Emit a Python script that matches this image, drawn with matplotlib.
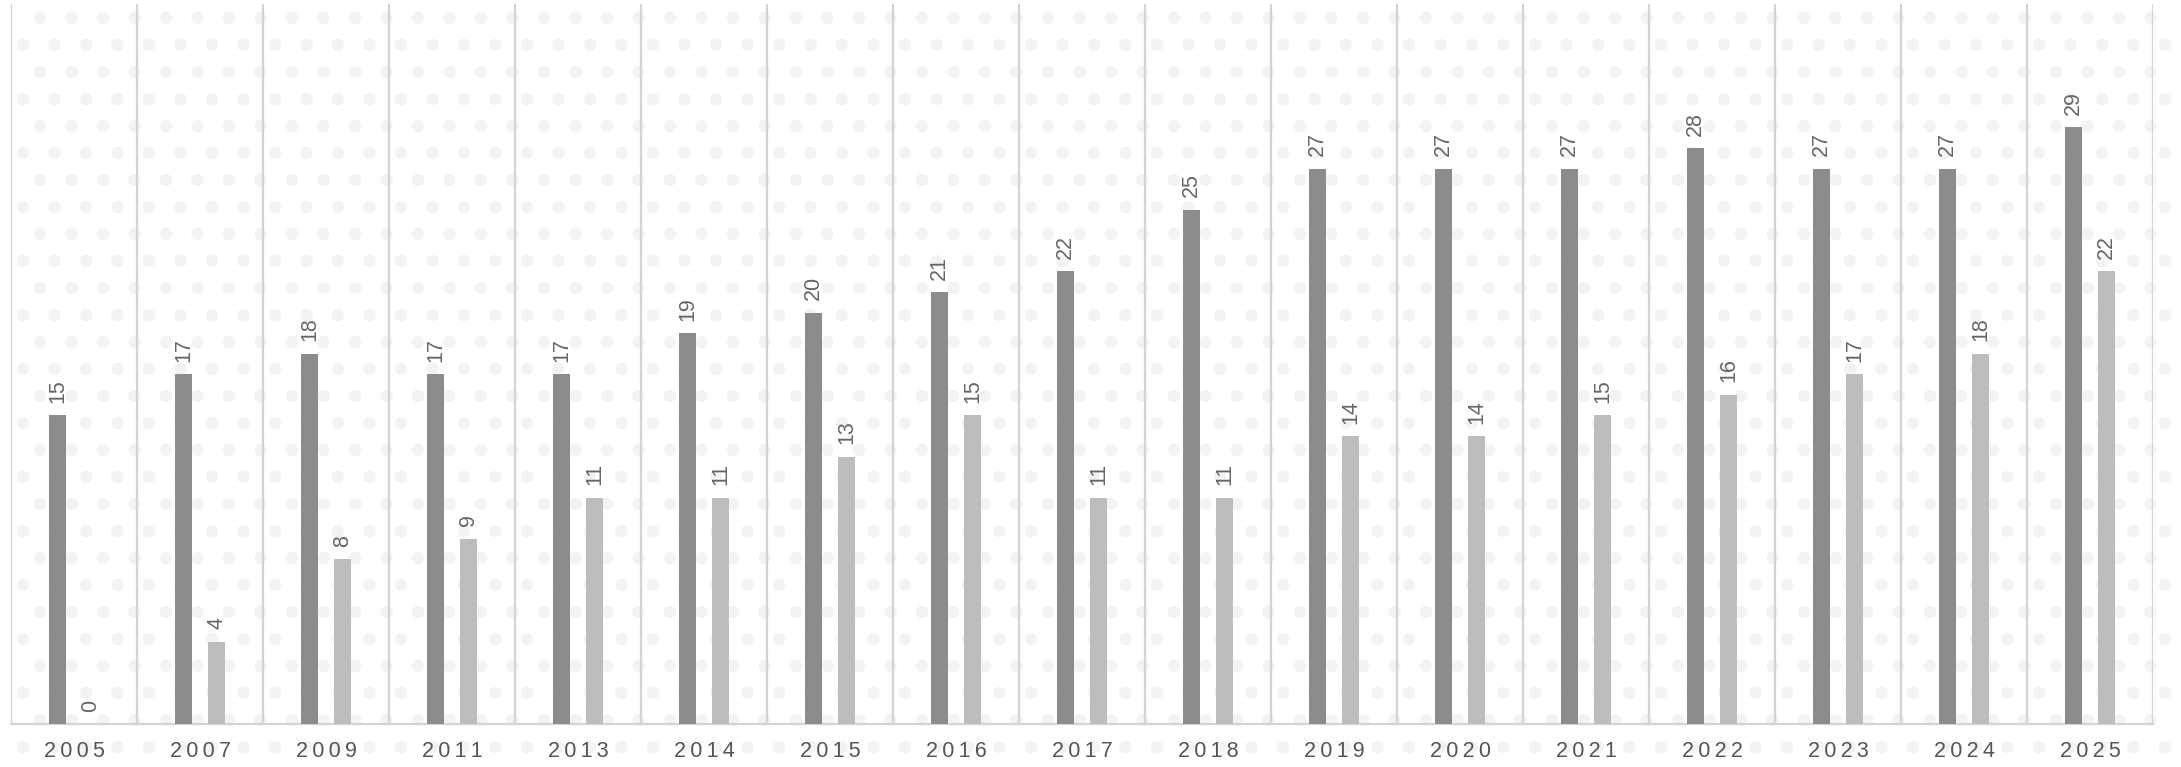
import matplotlib
matplotlib.use("Agg")
import matplotlib.pyplot as plt
import numpy as np

years = ["2005", "2007", "2009", "2011", "2013", "2014", "2015", "2016", "2017",
         "2018", "2019", "2020", "2021", "2022", "2023", "2024", "2025"]
series_a = [15, 17, 18, 17, 17, 19, 20, 21, 22, 25, 27, 27, 27, 28, 27, 27, 29]
series_b = [0, 4, 8, 9, 11, 11, 13, 15, 11, 11, 14, 14, 15, 16, 17, 18, 22]

plt.rcParams["font.family"] = ["Liberation Sans", "DejaVu Sans"]

fig = plt.figure(figsize=(21.81, 7.67), dpi=100)
fig.patch.set_facecolor("white")

# faint dotted background texture
bg = fig.add_axes([0, 0, 1, 1], zorder=-10)
bg.set_xlim(0, 2181)
bg.set_ylim(767, 0)
bg.axis("off")
for r, yy in enumerate(np.arange(18, 767, 27)):
    xs = np.arange(40 if r % 2 == 0 else 23, 2181, 31.5)
    bg.scatter(xs, np.full_like(xs, yy), s=80, marker="o", color="#f3f3f3",
               edgecolors="none")

ax = fig.add_axes([11 / 2181, 1 - 724 / 767, 2142 / 2181, 720 / 767])
ax.patch.set_alpha(0)

x = np.arange(len(years))
w = 0.135
off = 0.131
bars_a = ax.bar(x - off, series_a, w, color="#8c8c8c", zorder=3)
bars_b = ax.bar(x + off, series_b, w, color="#bdbdbd", zorder=3)

for bars in (bars_a, bars_b):
    for b in bars:
        h = b.get_height()
        ax.annotate(str(int(h)), (b.get_x() + b.get_width() / 2, h),
                    xytext=(0, 9), textcoords="offset points",
                    rotation=90, ha="center", va="bottom",
                    fontsize=15.5, color="#666666")

for i in range(len(years) + 1):
    ax.axvline(i - 0.5, color="#d4d4d4", lw=1.6, zorder=1)

ax.set_xlim(-0.5, len(years) - 0.5)
ax.set_ylim(0, 35)
ax.set_yticks([])
ax.set_xticks(x)
ax.set_xticklabels(["\u2009".join(y) for y in years], fontsize=15.5, color="#555555")
ax.tick_params(axis="x", length=0, pad=12)
for s in ("top", "left", "right"):
    ax.spines[s].set_visible(False)
ax.spines["bottom"].set_color("#d4d4d4")
ax.spines["bottom"].set_linewidth(1.6)

fig.savefig("out.png", dpi=100, facecolor="white")
